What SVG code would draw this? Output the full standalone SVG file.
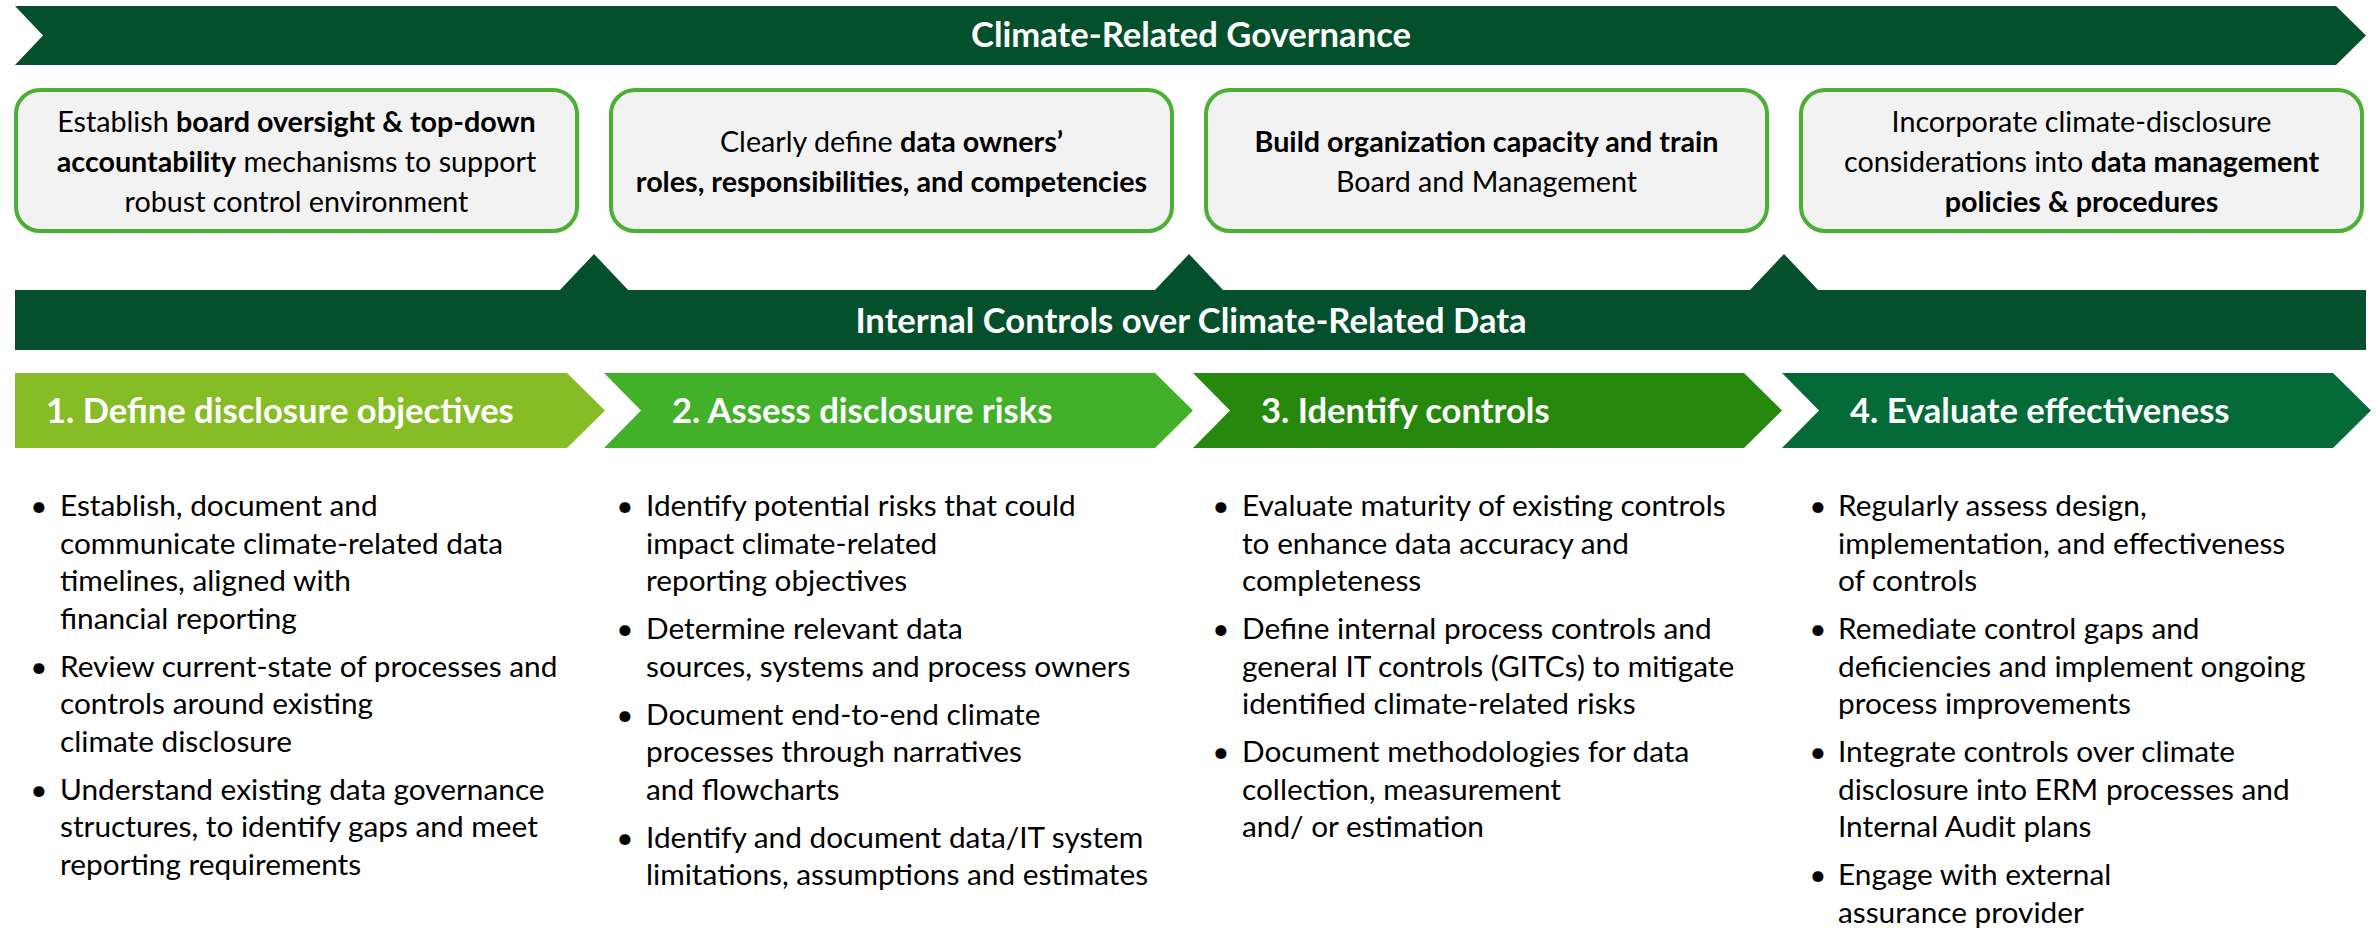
<svg xmlns="http://www.w3.org/2000/svg" width="2379" height="929" viewBox="0 0 2379 929">
  <style>
    .band { fill: #05502C; }
    .band-title { font-family: Lato, "Liberation Sans", sans-serif; font-weight: 700; font-size: 34.6px; fill: #FFFFFF; text-anchor: middle; }
    .card { fill: #F2F2F2; stroke: #4CB034; stroke-width: 4; }
    .card-text { font-family: Lato, "Liberation Sans", sans-serif; font-size: 28.7px; fill: #000000; text-anchor: middle; }
    .b { font-weight: 700; }
    .step-title { font-family: Lato, "Liberation Sans", sans-serif; font-weight: 700; font-size: 34.6px; fill: #FFFFFF; }
    .body { font-family: Lato, "Liberation Sans", sans-serif; font-size: 29.8px; fill: #000000; }
  </style>

  <!-- Governance band (right-pointing arrow with a notched tail) -->
  <g id="governance-band">
    <path class="band" d="M15,6 H2336 L2366,35.5 L2336,65 H15 L43,35.5 Z"/>
    <text class="band-title" x="1191" y="47">Climate-Related Governance</text>
  </g>

  <!-- Governance cards -->
  <g id="card-board-oversight">
    <rect class="card" x="16" y="90" width="561" height="141" rx="24"/>
    <text class="card-text" x="296.5" y="132">Establish <tspan class="b">board oversight &amp; top-down</tspan></text>
    <text class="card-text" x="296.5" y="172"><tspan class="b">accountability</tspan> mechanisms to support</text>
    <text class="card-text" x="296.5" y="212">robust control environment</text>
  </g>
  <g id="card-data-owners">
    <rect class="card" x="611" y="90" width="561" height="141" rx="24"/>
    <text class="card-text" x="891.5" y="152">Clearly define <tspan class="b">data owners’</tspan></text>
    <text class="card-text" x="891.5" y="192"><tspan class="b">roles, responsibilities, and competencies</tspan></text>
  </g>
  <g id="card-capacity">
    <rect class="card" x="1206" y="90" width="561" height="141" rx="24"/>
    <text class="card-text" x="1486.5" y="152"><tspan class="b">Build organization capacity and train</tspan></text>
    <text class="card-text" x="1486.5" y="192">Board and Management</text>
  </g>
  <g id="card-policies">
    <rect class="card" x="1801" y="90" width="561" height="141" rx="24"/>
    <text class="card-text" x="2081.5" y="132">Incorporate climate-disclosure</text>
    <text class="card-text" x="2081.5" y="172">considerations into <tspan class="b">data management</tspan></text>
    <text class="card-text" x="2081.5" y="212"><tspan class="b">policies &amp; procedures</tspan></text>
  </g>

  <!-- Upward pointers from the controls band to the governance cards -->
  <g id="connectors">
    <polygon class="band" points="559,291 594,254 629,291"/>
    <polygon class="band" points="1154,291 1189,254 1224,291"/>
    <polygon class="band" points="1749,291 1784,254 1819,291"/>
  </g>

  <!-- Internal controls band -->
  <g id="controls-band">
    <rect class="band" x="15" y="290" width="2351" height="60"/>
    <text class="band-title" x="1191" y="333">Internal Controls over Climate-Related Data</text>
  </g>

  <!-- Step 1 -->
  <g id="step-1">
    <path fill="#86BC25" d="M15,373 H567 L605,410.5 L567,448 H15 Z"/>
    <text class="step-title" x="46" y="423">1. Define disclosure objectives</text>
    <g class="body">
      <text x="39" y="516" text-anchor="middle">•</text>
      <text x="60" y="516">Establish, document and</text>
      <text x="60" y="553.5">communicate climate-related data</text>
      <text x="60" y="591">timelines, aligned with</text>
      <text x="60" y="628.5">financial reporting</text>
      <text x="39" y="676.5" text-anchor="middle">•</text>
      <text x="60" y="676.5">Review current-state of processes and</text>
      <text x="60" y="714">controls around existing</text>
      <text x="60" y="751.5">climate disclosure</text>
      <text x="39" y="799.5" text-anchor="middle">•</text>
      <text x="60" y="799.5">Understand existing data governance</text>
      <text x="60" y="837">structures, to identify gaps and meet</text>
      <text x="60" y="874.5">reporting requirements</text>
    </g>
  </g>

  <!-- Step 2 -->
  <g id="step-2">
    <path fill="#43B02A" d="M604,373 H1155 L1193,410.5 L1155,448 H604 L641,410.5 Z"/>
    <text class="step-title" x="672" y="423">2. Assess disclosure risks</text>
    <g class="body">
      <text x="625" y="516" text-anchor="middle">•</text>
      <text x="646" y="516">Identify potential risks that could</text>
      <text x="646" y="553.5">impact climate-related</text>
      <text x="646" y="591">reporting objectives</text>
      <text x="625" y="639" text-anchor="middle">•</text>
      <text x="646" y="639">Determine relevant data</text>
      <text x="646" y="676.5">sources, systems and process owners</text>
      <text x="625" y="724.5" text-anchor="middle">•</text>
      <text x="646" y="724.5">Document end-to-end climate</text>
      <text x="646" y="762">processes through narratives</text>
      <text x="646" y="799.5">and flowcharts</text>
      <text x="625" y="847.5" text-anchor="middle">•</text>
      <text x="646" y="847.5">Identify and document data/IT system</text>
      <text x="646" y="885">limitations, assumptions and estimates</text>
    </g>
  </g>

  <!-- Step 3 -->
  <g id="step-3">
    <path fill="#26890D" d="M1193,373 H1744 L1782,410.5 L1744,448 H1193 L1230,410.5 Z"/>
    <text class="step-title" x="1261" y="423">3. Identify controls</text>
    <g class="body">
      <text x="1221" y="516" text-anchor="middle">•</text>
      <text x="1242" y="516">Evaluate maturity of existing controls</text>
      <text x="1242" y="553.5">to enhance data accuracy and</text>
      <text x="1242" y="591">completeness</text>
      <text x="1221" y="639" text-anchor="middle">•</text>
      <text x="1242" y="639">Define internal process controls and</text>
      <text x="1242" y="676.5">general IT controls (GITCs) to mitigate</text>
      <text x="1242" y="714">identified climate-related risks</text>
      <text x="1221" y="762" text-anchor="middle">•</text>
      <text x="1242" y="762">Document methodologies for data</text>
      <text x="1242" y="799.5">collection, measurement</text>
      <text x="1242" y="837">and/ or estimation</text>
    </g>
  </g>

  <!-- Step 4 -->
  <g id="step-4">
    <path fill="#046A38" d="M1782,373 H2333 L2371,410.5 L2333,448 H1782 L1819,410.5 Z"/>
    <text class="step-title" x="1850" y="423">4. Evaluate effectiveness</text>
    <g class="body">
      <text x="1818" y="516" text-anchor="middle">•</text>
      <text x="1838" y="516">Regularly assess design,</text>
      <text x="1838" y="553.5">implementation, and effectiveness</text>
      <text x="1838" y="591">of controls</text>
      <text x="1818" y="639" text-anchor="middle">•</text>
      <text x="1838" y="639">Remediate control gaps and</text>
      <text x="1838" y="676.5">deficiencies and implement ongoing</text>
      <text x="1838" y="714">process improvements</text>
      <text x="1818" y="762" text-anchor="middle">•</text>
      <text x="1838" y="762">Integrate controls over climate</text>
      <text x="1838" y="799.5">disclosure into ERM processes and</text>
      <text x="1838" y="837">Internal Audit plans</text>
      <text x="1818" y="885" text-anchor="middle">•</text>
      <text x="1838" y="885">Engage with external</text>
      <text x="1838" y="922.5">assurance provider</text>
    </g>
  </g>
</svg>
